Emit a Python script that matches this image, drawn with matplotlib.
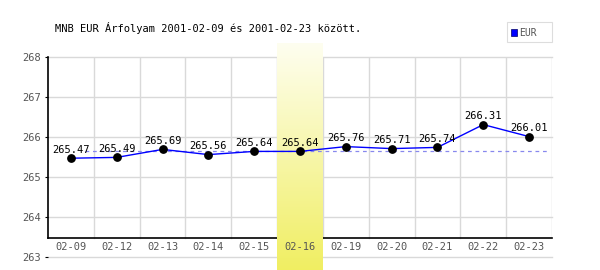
import numpy as np
import matplotlib
matplotlib.use("Agg")
import matplotlib.pyplot as plt
from matplotlib.patches import Rectangle

dates = ['02-09', '02-12', '02-13', '02-14', '02-15', '02-16',
         '02-19', '02-20', '02-21', '02-22', '02-23']
rates = [265.47, 265.49, 265.69, 265.56, 265.64, 265.64,
         265.76, 265.71, 265.74, 266.31, 266.01]
y_ticks = [263, 264, 265, 266, 267, 268]
highlight = '02-16'
title = 'MNB EUR Árfolyam 2001-02-09 és 2001-02-23 között.'

mono = 'DejaVu Sans Mono'
fig = plt.figure(figsize=(6, 2.7), dpi=100)
# axes box: x 48..552 px, y 57..257 px (268..263)
ax = fig.add_axes([48/600, 13/270, 504/600, 200/270])
x = np.arange(len(dates))
ax.set_xlim(-0.5, len(dates) - 0.5)
for s in ax.spines.values():
    s.set_visible(False)
ax.set_xticks([])
ax.set_yticks(y_ticks)
ax.set_yticklabels([str(v) for v in y_ticks], fontfamily=mono, fontsize=7.5, color='#555555')
ax.tick_params(axis='y', length=2, width=0.8, pad=3)

base = 263.475  # x axis line position

# highlighted column with gradient (light at top, yellow at bottom), covers the grid
hi = dates.index(highlight)
grad = np.linspace(0, 1, 256).reshape(-1, 1)
cmap = matplotlib.colors.LinearSegmentedColormap.from_list('yl', ['#fefef0', '#f0ee60'])
ax.imshow(grad, extent=(hi - 0.5, hi + 0.5, 262.6, 268.33), aspect='auto', cmap=cmap,
          origin='upper', zorder=1.5, clip_on=False)
ax.set_ylim(263, 268)

# grid
for v in y_ticks:
    ax.plot([-0.5, len(dates) - 0.5], [v, v], color='#d9d9d9', lw=1, zorder=1, clip_on=False)
for i in range(len(dates)):
    ax.plot([i + 0.5, i + 0.5], [base, 268], color='#d9d9d9', lw=1, zorder=1)

# axes lines
ax.plot([-0.5, -0.5], [base, 268], color='black', lw=1.2, zorder=3, clip_on=False)
ax.plot([-0.5, len(dates) - 0.5], [base, base], color='black', lw=1.2, zorder=1.2, clip_on=False)

# reference dashed line
ax.plot([0.3, len(dates) - 0.55], [rates[hi], rates[hi]], color='#8888ee', lw=0.9,
        ls=(0, (3, 3)), zorder=2)

ax.plot(x, rates, color='#0000ff', lw=1, zorder=4)
ax.scatter(x, rates, s=28, color='black', zorder=5)
for i, v in enumerate(rates):
    ax.text(i, v + 0.08, '%.2f' % v, ha='center', va='bottom', fontfamily=mono,
            fontsize=7.5, color='black', zorder=6)

for i, d in enumerate(dates):
    ax.text(i, 263.24, d, ha='center', va='center', fontfamily=mono, fontsize=7.5,
            color='#555555', zorder=6)

fig.text(55/600, 1 - 28/270, title, ha='left', va='center', fontfamily=mono,
         fontsize=7.5, color='black')

# legend box
fig.patches.append(Rectangle((507/600, 1 - 42/270), 45/600, 20/270, transform=fig.transFigure,
                             facecolor='white', edgecolor='#dddddd', lw=0.8))
fig.patches.append(Rectangle((511/600, 1 - 36/270), 6/600, 7/270, transform=fig.transFigure,
                             facecolor='#0000ff', edgecolor='#000066', lw=0.5))
fig.text(519/600, 1 - 32.5/270, 'EUR', ha='left', va='center', fontfamily=mono,
         fontsize=7, color='#555555')

fig.savefig('out.png', dpi=100)
